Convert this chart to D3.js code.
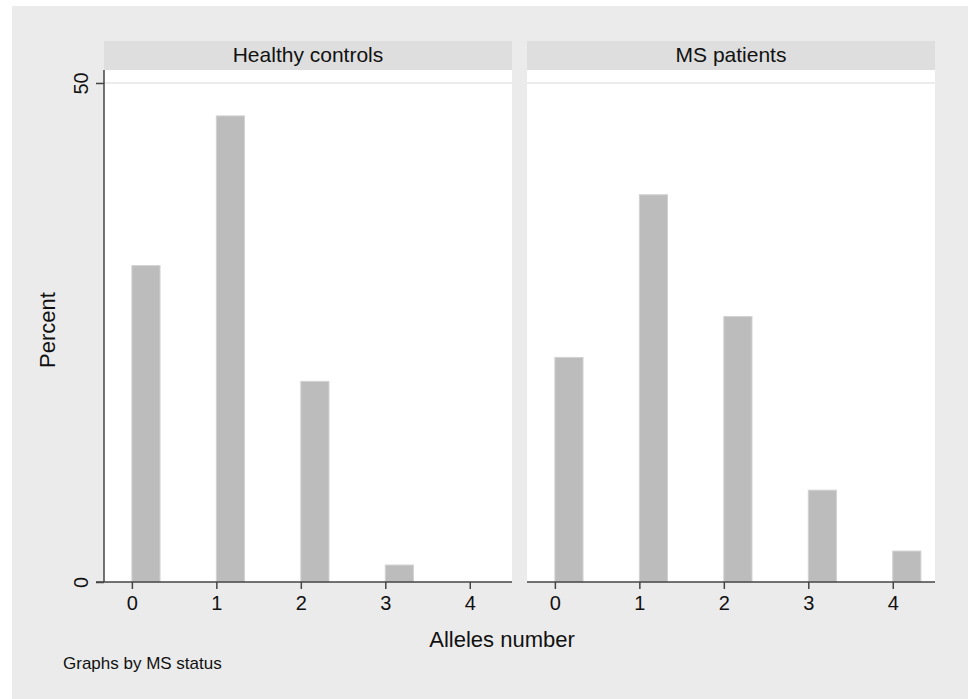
<!DOCTYPE html>
<html>
<head>
<meta charset="utf-8">
<script src="https://cdn.jsdelivr.net/npm/d3@7"></script>
<style>
  body { margin: 0; background: #fff; }
  text { font-family: "Liberation Sans", Arial, sans-serif; fill: #111; }
</style>
</head>
<body>
<svg id="chart" width="968" height="699"></svg>
<script>
// Data
var alleles = [0, 1, 2, 3, 4];
var panels = ["Healthy controls", "MS patients"];
var healthyPct = [31.7, 46.7, 20.1, 1.7, 0];
var msPct = [22.5, 38.8, 26.6, 9.2, 3.1];
var yTicks = [0, 50];
var seriesList = [healthyPct, msPct];

var svg = d3.select('#chart');

// outer graph region
svg.append('rect')
    .attr('x', 12).attr('y', 6)
    .attr('width', 956).attr('height', 693)
    .attr('fill', '#ebebeb');

var panelLeft = [104, 527];
var panelWidth = 408;
var plotTop = 70, plotBottom = 582;

var y = d3.scaleLinear()
    .domain([0, 51.3])
    .range([plotBottom, plotTop]);

var binWidth = 1/3;

for (let p = 0; p < panels.length; p++) {
    var x0 = panelLeft[p];
    var x = d3.scaleLinear()
        .domain([-0.33, 4.5])
        .range([x0, x0 + panelWidth]);

    // header strip
    svg.append('rect')
        .attr('x', x0).attr('y', 41)
        .attr('width', panelWidth).attr('height', 29)
        .attr('fill', '#dedede');
    svg.append('text')
        .attr('x', x0 + panelWidth/2).attr('y', 62)
        .attr('text-anchor', 'middle')
        .style('font-size', '21px')
        .text(panels[p]);

    // plot area
    svg.append('rect')
        .attr('x', x0).attr('y', plotTop)
        .attr('width', panelWidth).attr('height', plotBottom - plotTop)
        .attr('fill', '#fff');

    // gridline at 50
    svg.append('line')
        .attr('x1', x0).attr('x2', x0 + panelWidth)
        .attr('y1', y(50)).attr('y2', y(50))
        .attr('stroke', '#ececec')
        .attr('stroke-width', 2);

    // bars
    svg.selectAll('.bar' + p)
        .data(seriesList[p])
        .enter().append('rect')
        .attr('x', function(d, i) { return x(alleles[i]); })
        .attr('y', function(d) { return y(d); })
        .attr('width', x(binWidth) - x(0))
        .attr('height', function(d) { return y(0) - y(d); })
        .attr('fill', '#bcbcbc')
        .attr('stroke', '#d2d2d2')
        .attr('stroke-width', 1)
        .style('display', function(d) { return d > 0 ? null : 'none'; });

    // x axis
    var xAxis = d3.axisBottom(x)
        .tickValues(alleles)
        .tickSize(7)
        .tickPadding(7)
        .tickFormat(d3.format('d'));
    var gx = svg.append('g')
        .attr('transform', 'translate(0,' + plotBottom + ')')
        .call(xAxis);
    gx.select('.domain').remove();
    gx.append('line')
        .attr('x1', p === 0 ? x0 - 8 : x0).attr('x2', x0 + panelWidth)
        .attr('y1', 0).attr('y2', 0)
        .attr('stroke', '#444').attr('stroke-width', 1.5);
    gx.selectAll('.tick line').attr('stroke', '#444').attr('stroke-width', 1.5);
    gx.selectAll('.tick text')
        .style('font-size', '20px')
        .style('font-family', '"Liberation Sans", Arial, sans-serif')
        .attr('fill', '#111');
}

// y axis, left panel only
var yAxis = d3.axisLeft(y)
    .tickValues(yTicks)
    .tickSize(8)
    .tickFormat(d3.format('d'));
var gy = svg.append('g')
    .attr('transform', 'translate(' + panelLeft[0] + ',0)')
    .call(yAxis);
gy.select('.domain').remove();
gy.append('line')
    .attr('x1', 0).attr('x2', 0)
    .attr('y1', plotTop).attr('y2', plotBottom)
    .attr('stroke', '#444').attr('stroke-width', 1.5);
gy.selectAll('.tick line').attr('stroke', '#444').attr('stroke-width', 1.5);
gy.selectAll('.tick text')
    .attr('x', null).attr('dy', null)
    .attr('transform', 'translate(-16,0) rotate(-90)')
    .attr('text-anchor', 'middle')
    .style('font-size', '20px')
    .style('font-family', '"Liberation Sans", Arial, sans-serif')
    .attr('fill', '#111');

// axis titles
svg.append('text')
    .attr('transform', 'translate(55,330) rotate(-90)')
    .attr('text-anchor', 'middle')
    .style('font-size', '22px')
    .text('Percent');

svg.append('text')
    .attr('x', 502).attr('y', 647)
    .attr('text-anchor', 'middle')
    .style('font-size', '22px')
    .text('Alleles number');

svg.append('text')
    .attr('x', 63).attr('y', 669)
    .style('font-size', '17px')
    .text('Graphs by MS status');
</script>
</body>
</html>
